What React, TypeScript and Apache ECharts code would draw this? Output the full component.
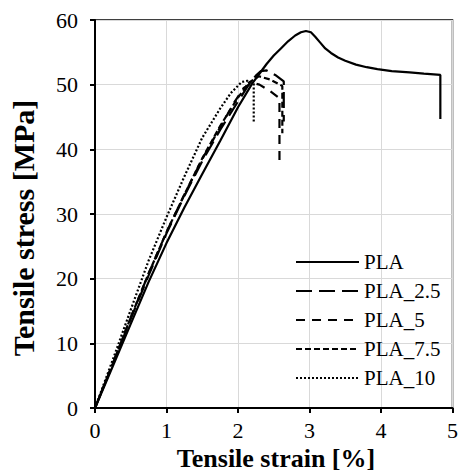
import React, { useEffect, useRef } from "react";
import * as echarts from "echarts";

const xTicks = [0, 1, 2, 3, 4, 5];
const yTicks = [0, 10, 20, 30, 40, 50, 60];

const seriesNames = ["PLA", "PLA_2.5", "PLA_5", "PLA_7.5", "PLA_10"];

const pla: number[][] = [
  [0, 0], [0.25, 6.5], [0.5, 13], [0.75, 19.5], [1, 25.5], [1.25, 31], [1.5, 36.2],
  [1.75, 41.3], [2, 46.5], [2.2, 50.2], [2.32, 52], [2.4, 53.2], [2.5, 54.5], [2.6, 55.6],
  [2.7, 56.7], [2.8, 57.6], [2.88, 58.1], [2.95, 58.3], [3.02, 58.1], [3.08, 57.4],
  [3.15, 56.5], [3.22, 55.6], [3.3, 54.9], [3.4, 54.2], [3.5, 53.7], [3.65, 53.1],
  [3.8, 52.7], [3.95, 52.4], [4.15, 52.1], [4.4, 51.9], [4.6, 51.7], [4.83, 51.5], [4.83, 44.7],
];

const pla25: number[][] = [
  [0, 0], [0.25, 6.8], [0.5, 13.8], [0.75, 20.5], [1, 27], [1.25, 32.8], [1.5, 38.2],
  [1.75, 43], [2, 47.4], [2.15, 50], [2.25, 51.4], [2.32, 52.1], [2.4, 52.2], [2.52, 51.5],
  [2.64, 50.5], [2.64, 44.3],
];

const pla5: number[][] = [
  [0, 0], [0.25, 6.9], [0.5, 14], [0.75, 20.8], [1, 27.2], [1.25, 33], [1.5, 38.5],
  [1.75, 43.4], [1.95, 47.3], [2.08, 49.5], [2.2, 50.3], [2.3, 50], [2.45, 49], [2.58, 47.9],
  [2.58, 37.9],
];

const pla75: number[][] = [
  [0, 0], [0.25, 6.9], [0.5, 14], [0.75, 20.8], [1, 27.2], [1.25, 33], [1.5, 38.6],
  [1.75, 43.6], [2, 48], [2.15, 50.3], [2.29, 51.3], [2.45, 50.8], [2.62, 49.8], [2.62, 42.5],
];

const pla10: number[][] = [
  [0, 0], [0.25, 7.5], [0.5, 15.2], [0.75, 22.8], [1, 29.5], [1.25, 35.8], [1.5, 41.8],
  [1.75, 46.3], [1.9, 48.7], [2.05, 50.4], [2.13, 50.6], [2.22, 50.1], [2.22, 44.1],
];

const seriesData = [pla, pla25, pla5, pla75, pla10];
const dashes: any[] = ["solid", [16, 7], [9, 7], [6, 3], [2, 2]];

const FONT = "Liberation Serif";

export default function App() {
  const ref = useRef<HTMLDivElement>(null);
  useEffect(() => {
    document.body.style.margin = "0";
    if (!ref.current) return;
    const chart = echarts.init(ref.current, undefined, { renderer: "svg" });
    chart.setOption({
      animation: false,
      backgroundColor: "#ffffff",
      textStyle: { fontFamily: FONT },
      grid: {
        left: 95,
        right: 6,
        top: 20,
        bottom: 65,
        show: true,
        borderColor: "#000",
        borderWidth: 1.5,
        containLabel: false,
      },
      xAxis: {
        type: "value",
        min: xTicks[0],
        max: xTicks[xTicks.length - 1],
        interval: 1,
        axisLine: { show: true, onZero: false, lineStyle: { color: "#000", width: 2 } },
        axisTick: { show: true, inside: false, length: 5, lineStyle: { color: "#000", width: 2 } },
        axisLabel: { color: "#000", fontFamily: FONT, fontSize: 22, lineHeight: 20, margin: 12 },
        splitLine: { show: true, lineStyle: { color: "#d9d9d9", width: 1 } },
      },
      yAxis: {
        type: "value",
        min: yTicks[0],
        max: yTicks[yTicks.length - 1],
        interval: 10,
        axisLine: { show: true, onZero: false, lineStyle: { color: "#000", width: 2 } },
        axisTick: { show: true, inside: false, length: 5, lineStyle: { color: "#000", width: 2 } },
        axisLabel: { color: "#000", fontFamily: FONT, fontSize: 22, margin: 17 },
        splitLine: { show: true, lineStyle: { color: "#d9d9d9", width: 1 } },
      },
      legend: {
        orient: "vertical",
        left: 290,
        top: 246,
        itemWidth: 63,
        itemHeight: 14,
        itemGap: 7,
        data: seriesNames,
        itemStyle: { color: "rgba(0,0,0,0)", borderWidth: 0, opacity: 0 },
        textStyle: { color: "#000", fontFamily: FONT, fontSize: 21, lineHeight: 22 },
      },
      graphic: [
        {
          type: "text",
          x: 276,
          y: 458,
          style: {
            text: "Tensile strain [%]",
            fontFamily: FONT,
            fontWeight: "bold",
            fontSize: 26,
            lineHeight: 20,
            fill: "#000",
            align: "center",
            verticalAlign: "middle",
          },
        },
        {
          type: "text",
          x: 23,
          y: 228,
          rotation: Math.PI / 2,
          style: {
            text: "Tensile stress [MPa]",
            fontFamily: FONT,
            fontWeight: "bold",
            fontSize: 30,
            lineHeight: 24,
            fill: "#000",
            align: "center",
            verticalAlign: "middle",
          },
        },
      ],
      series: seriesNames.map((name, i) => ({
        name,
        type: "line",
        data: seriesData[i],
        showSymbol: false,
        symbol: "none",
        smooth: false,
        lineStyle: { color: "#000", width: 2.2, type: dashes[i] },
        itemStyle: { color: "#000" },
        z: 10 - i,
      })),
    });
    return () => chart.dispose();
  }, []);
  return <div ref={ref} style={{ width: 461, height: 473 }} />;
}
